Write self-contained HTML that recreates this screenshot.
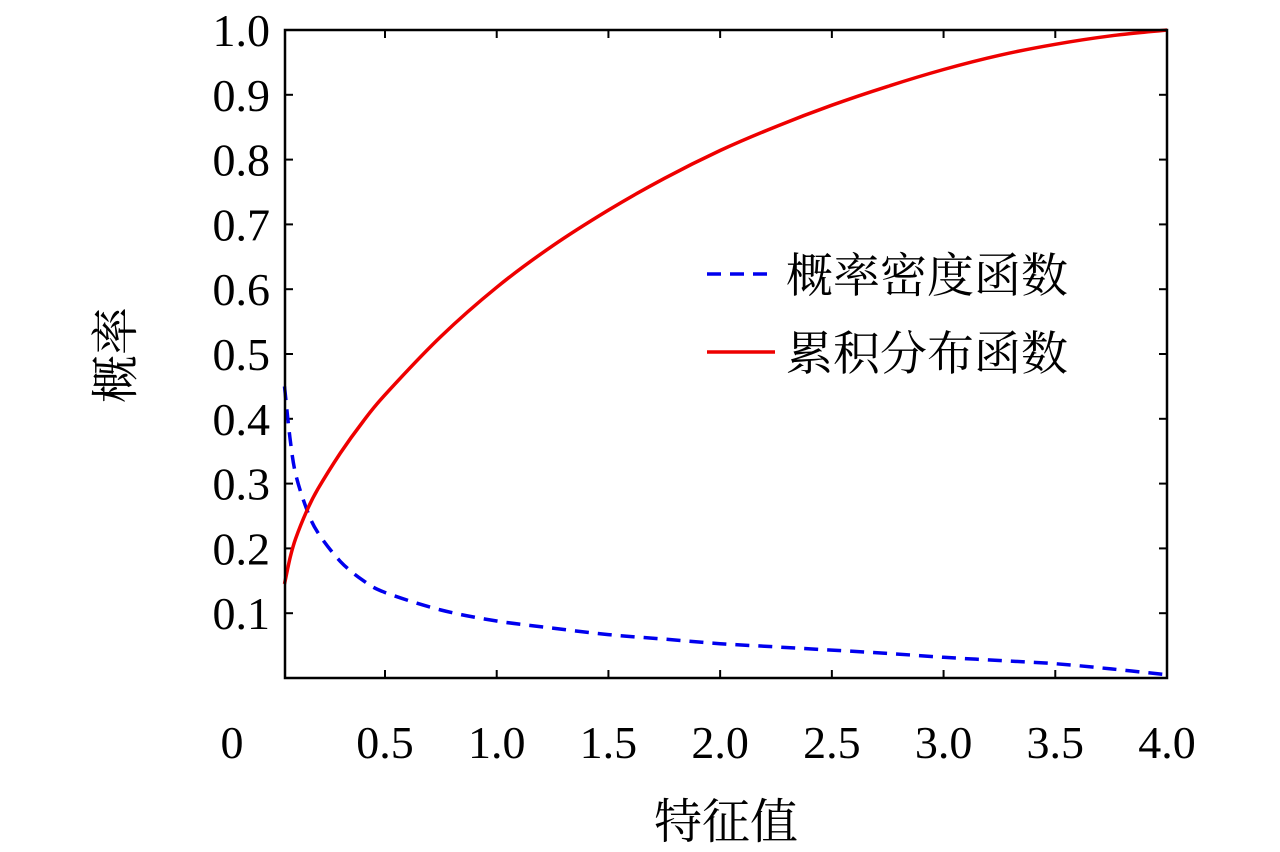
<!DOCTYPE html>
<html><head><meta charset="utf-8"><style>
body{margin:0;background:#fff}
svg text{font-family:"Liberation Serif","Noto Serif CJK SC",serif;fill:#000}
</style></head><body>
<svg id="c" width="1280" height="847"></svg>
<script>
const xVals=[0.05,0.075,0.1,0.15,0.2,0.3,0.4,0.5,0.75,1.0,1.25,1.5,1.75,2.0,2.25,2.5,2.75,3.0,3.25,3.5,3.75,4.0];
const cdfVals=[0.145,0.185,0.215,0.258,0.292,0.347,0.395,0.437,0.527,0.603,0.667,0.722,0.771,0.814,0.851,0.884,0.913,0.939,0.961,0.978,0.991,1.0];
const pdfVals=[0.45,0.37,0.315,0.26,0.224,0.18,0.151,0.132,0.105,0.088,0.077,0.067,0.06,0.053,0.048,0.043,0.038,0.032,0.027,0.022,0.014,0.005];
const xTicks=[0.5,1.0,1.5,2.0,2.5,3.0,3.5,4.0];
const xTickLabels=["0.5","1.0","1.5","2.0","2.5","3.0","3.5","4.0"];
const yTicks=[0.1,0.2,0.3,0.4,0.5,0.6,0.7,0.8,0.9,1.0];
const yTickLabels=["0.1","0.2","0.3","0.4","0.5","0.6","0.7","0.8","0.9","1.0"];
const NS="http://www.w3.org/2000/svg";
const svg=document.getElementById('c');
const L=285,R=1167,T=30,B=678;
const X=v=>385+(v-0.5)*(1167-385)/3.5;
const Y=v=>B-v*(B-T);
function mk(tag,attrs,parent){const e=document.createElementNS(NS,tag);for(const k in attrs)e.setAttribute(k,attrs[k]);(parent||svg).appendChild(e);return e;}
xTicks.forEach((t,i)=>{
 const g=mk('line',{x1:X(t),x2:X(t),y1:B,y2:B-8,stroke:'#000','stroke-width':2});
 
 
 const g2=mk('line',{x1:X(t),x2:X(t),y1:T,y2:T+8,stroke:'#000','stroke-width':2});
 
 
 const tx=mk('text',{x:X(t),y:758,'text-anchor':'middle','font-size':46});
 tx.textContent=xTickLabels[i];
 
 
});
const z=mk('text',{x:232,y:758,'text-anchor':'middle','font-size':46});z.textContent='0';


yTicks.forEach((t,i)=>{
 const g=mk('line',{x1:L,x2:L+8,y1:Y(t),y2:Y(t),stroke:'#000','stroke-width':2});
 
 
 const g2=mk('line',{x1:R,x2:R-8,y1:Y(t),y2:Y(t),stroke:'#000','stroke-width':2});
 
 
 const tx=mk('text',{x:270,y:Y(t)+16,'text-anchor':'end','font-size':46});
 tx.textContent=yTickLabels[i];
 
 
});
function path(vals){
 const p=xVals.map((x,i)=>[X(x),Y(vals[i])]);
 let d='M'+p[0][0].toFixed(1)+','+p[0][1].toFixed(1);
 for(let i=0;i<p.length-1;i++){
  const p0=p[Math.max(0,i-1)],p1=p[i],p2=p[i+1],p3=p[Math.min(p.length-1,i+2)];
  const c1=[p1[0]+(p2[0]-p0[0])/6,p1[1]+(p2[1]-p0[1])/6];
  const c2=[p2[0]-(p3[0]-p1[0])/6,p2[1]-(p3[1]-p1[1])/6];
  d+=' C'+c1.map(v=>v.toFixed(1))+' '+c2.map(v=>v.toFixed(1))+' '+p2.map(v=>v.toFixed(1));
 }
 return d;
}
const p1=mk('path',{d:path(pdfVals),fill:'none',stroke:'#0000ee','stroke-width':3.5,'stroke-dasharray':'14,9'});


const p2=mk('path',{d:path(cdfVals),fill:'none',stroke:'#ee0000','stroke-width':3.5,'stroke-linejoin':'round'});


const fr=mk('rect',{x:L,y:T,width:R-L,height:B-T,fill:'none',stroke:'#000','stroke-width':2.5});


</script>
<div style="position:absolute;left:0;top:0;width:1280px;height:847px;pointer-events:none">
<svg width="1280" height="847" style="position:absolute;left:0;top:0">
 <g>
  <line x1="707" x2="775" y1="274" y2="274" stroke="#0000ee" stroke-width="3.5" stroke-dasharray="14,9"/>
  <text x="786" y="292" font-size="47" font-family="'Liberation Serif','Noto Serif CJK SC',serif">概率密度函数</text>
  <line x1="707" x2="775" y1="352" y2="352" stroke="#ee0000" stroke-width="3.5"/>
  <text x="786" y="370" font-size="47" font-family="'Liberation Serif','Noto Serif CJK SC',serif">累积分布函数</text>
 </g>
 <text x="726" y="838" text-anchor="middle" font-size="48" font-family="'Liberation Serif','Noto Serif CJK SC',serif">特征值</text>
 <text transform="translate(132,355) rotate(-90)" text-anchor="middle" font-size="48" font-family="'Liberation Serif','Noto Serif CJK SC',serif">概率</text>
</svg></div>
</body></html>
